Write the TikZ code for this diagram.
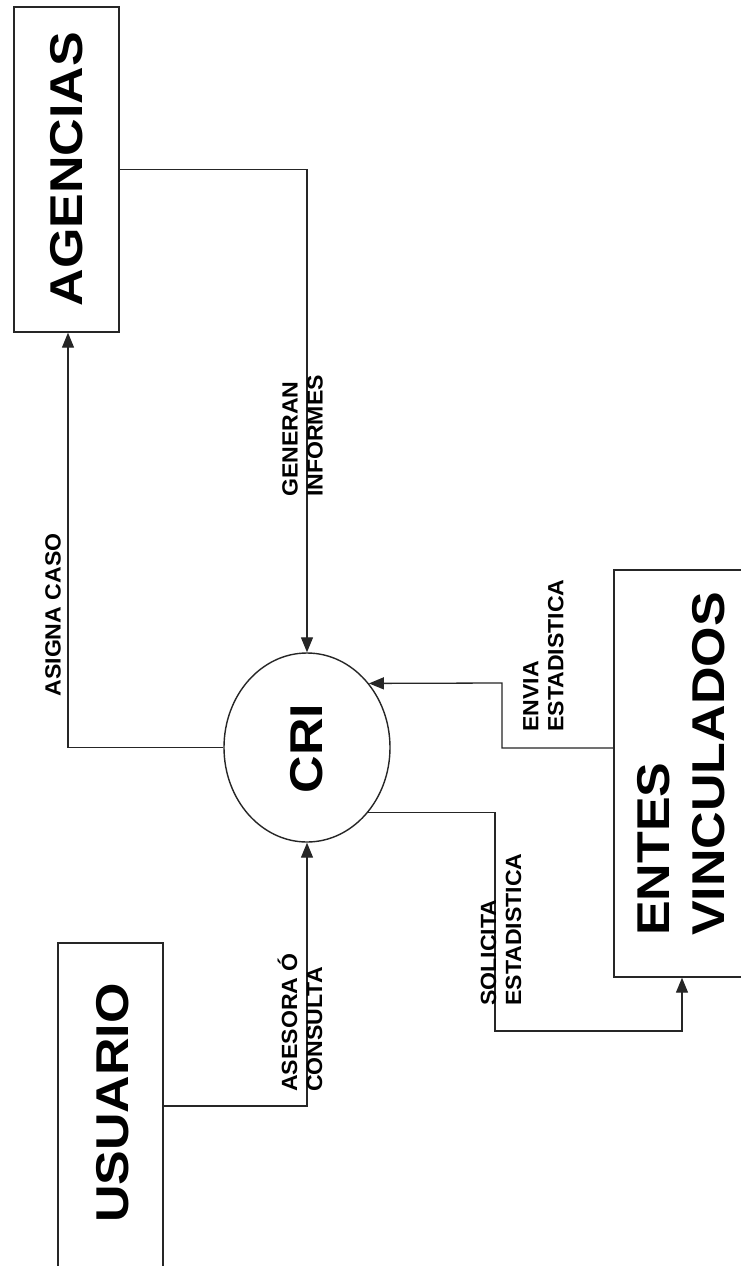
\documentclass[tikz,border=0pt]{standalone}
\usepackage{fontspec}
\setmainfont{Liberation Sans}
\newfontfamily\bigf[FakeStretch=1.13]{Liberation Sans}
\newfontfamily\lblf[FakeStretch=1.05]{Liberation Sans}
\usetikzlibrary{shapes.geometric,arrows.meta}
\begin{document}
\begin{tikzpicture}[x=1pt,y=1pt,
  ent/.style={draw=black!85, line width=1.4pt, inner sep=0pt},
  big/.style={rotate=90, inner sep=0pt, align=left, font=\bigf\bfseries\fontsize{46}{55}\selectfont},
  lbl/.style={rotate=90, inner sep=0pt, align=left, font=\lblf\bfseries\fontsize{22}{25}\selectfont},
  flow/.style={draw=black!85, line width=1.3pt, -{Triangle[length=15pt,width=12pt]}}]
\useasboundingbox (0,0) rectangle (741,-1266);
\fill[white] (0,0) rectangle (741,-1266);
\clip (0,0) rectangle (741,-1266);
% entities
\node[ent, rectangle, minimum width=105pt, minimum height=325pt] (ag) at (66.5,-169.5) {};
\node[ent, rectangle, minimum width=105pt, minimum height=350pt] (us) at (110.5,-1118) {};
\node[ent, rectangle, minimum width=160pt, minimum height=407pt] (en) at (694,-773.5) {};
\node[ent, ellipse, minimum width=166pt, minimum height=189pt] (cri) at (307,-747.5) {};
% entity texts
\node[big] (tag) at (66.5,-169) {AGENCIAS};
\node[big] (tus) at (112.5,-1103) {USUARIO};
\node[big] (tcri) at (307,-748.5) {CRI};
\node[big] (ten) at (681,-764) {ENTES\\VINCULADOS};
% connectors
\coordinate (s1) at (495,-1031);
\coordinate (e1) at (502,-683);
\draw[flow] (cri.west) -| ([xshift=1.5pt]ag.south);
\draw[flow] (ag.east) -| (cri.north);
\draw[flow] ([yshift=12pt]us.east) -| (cri.south);
\draw[flow] (cri.-47.5) -| (s1) -| ([xshift=-12pt]en.south);
\draw[flow] ([yshift=25.5pt]en.west) -| (e1) -- (cri.46.8);
% labels
\node[lbl] (l1) at (53,-615) {ASIGNA CASO};
\node[lbl] (l2) at (302.5,-436) {GENERAN\\INFORMES};
\node[lbl] (l3) at (300,-1022.5) {ASESORA Ó\\CONSULTA};
\node[lbl] (l4) at (501,-929.5) {SOLICITA\\ESTADISTICA};
\node[lbl] (l5) at (543.5,-655.5) {ENVIA\\ESTADISTICA};
\end{tikzpicture}
\end{document}
